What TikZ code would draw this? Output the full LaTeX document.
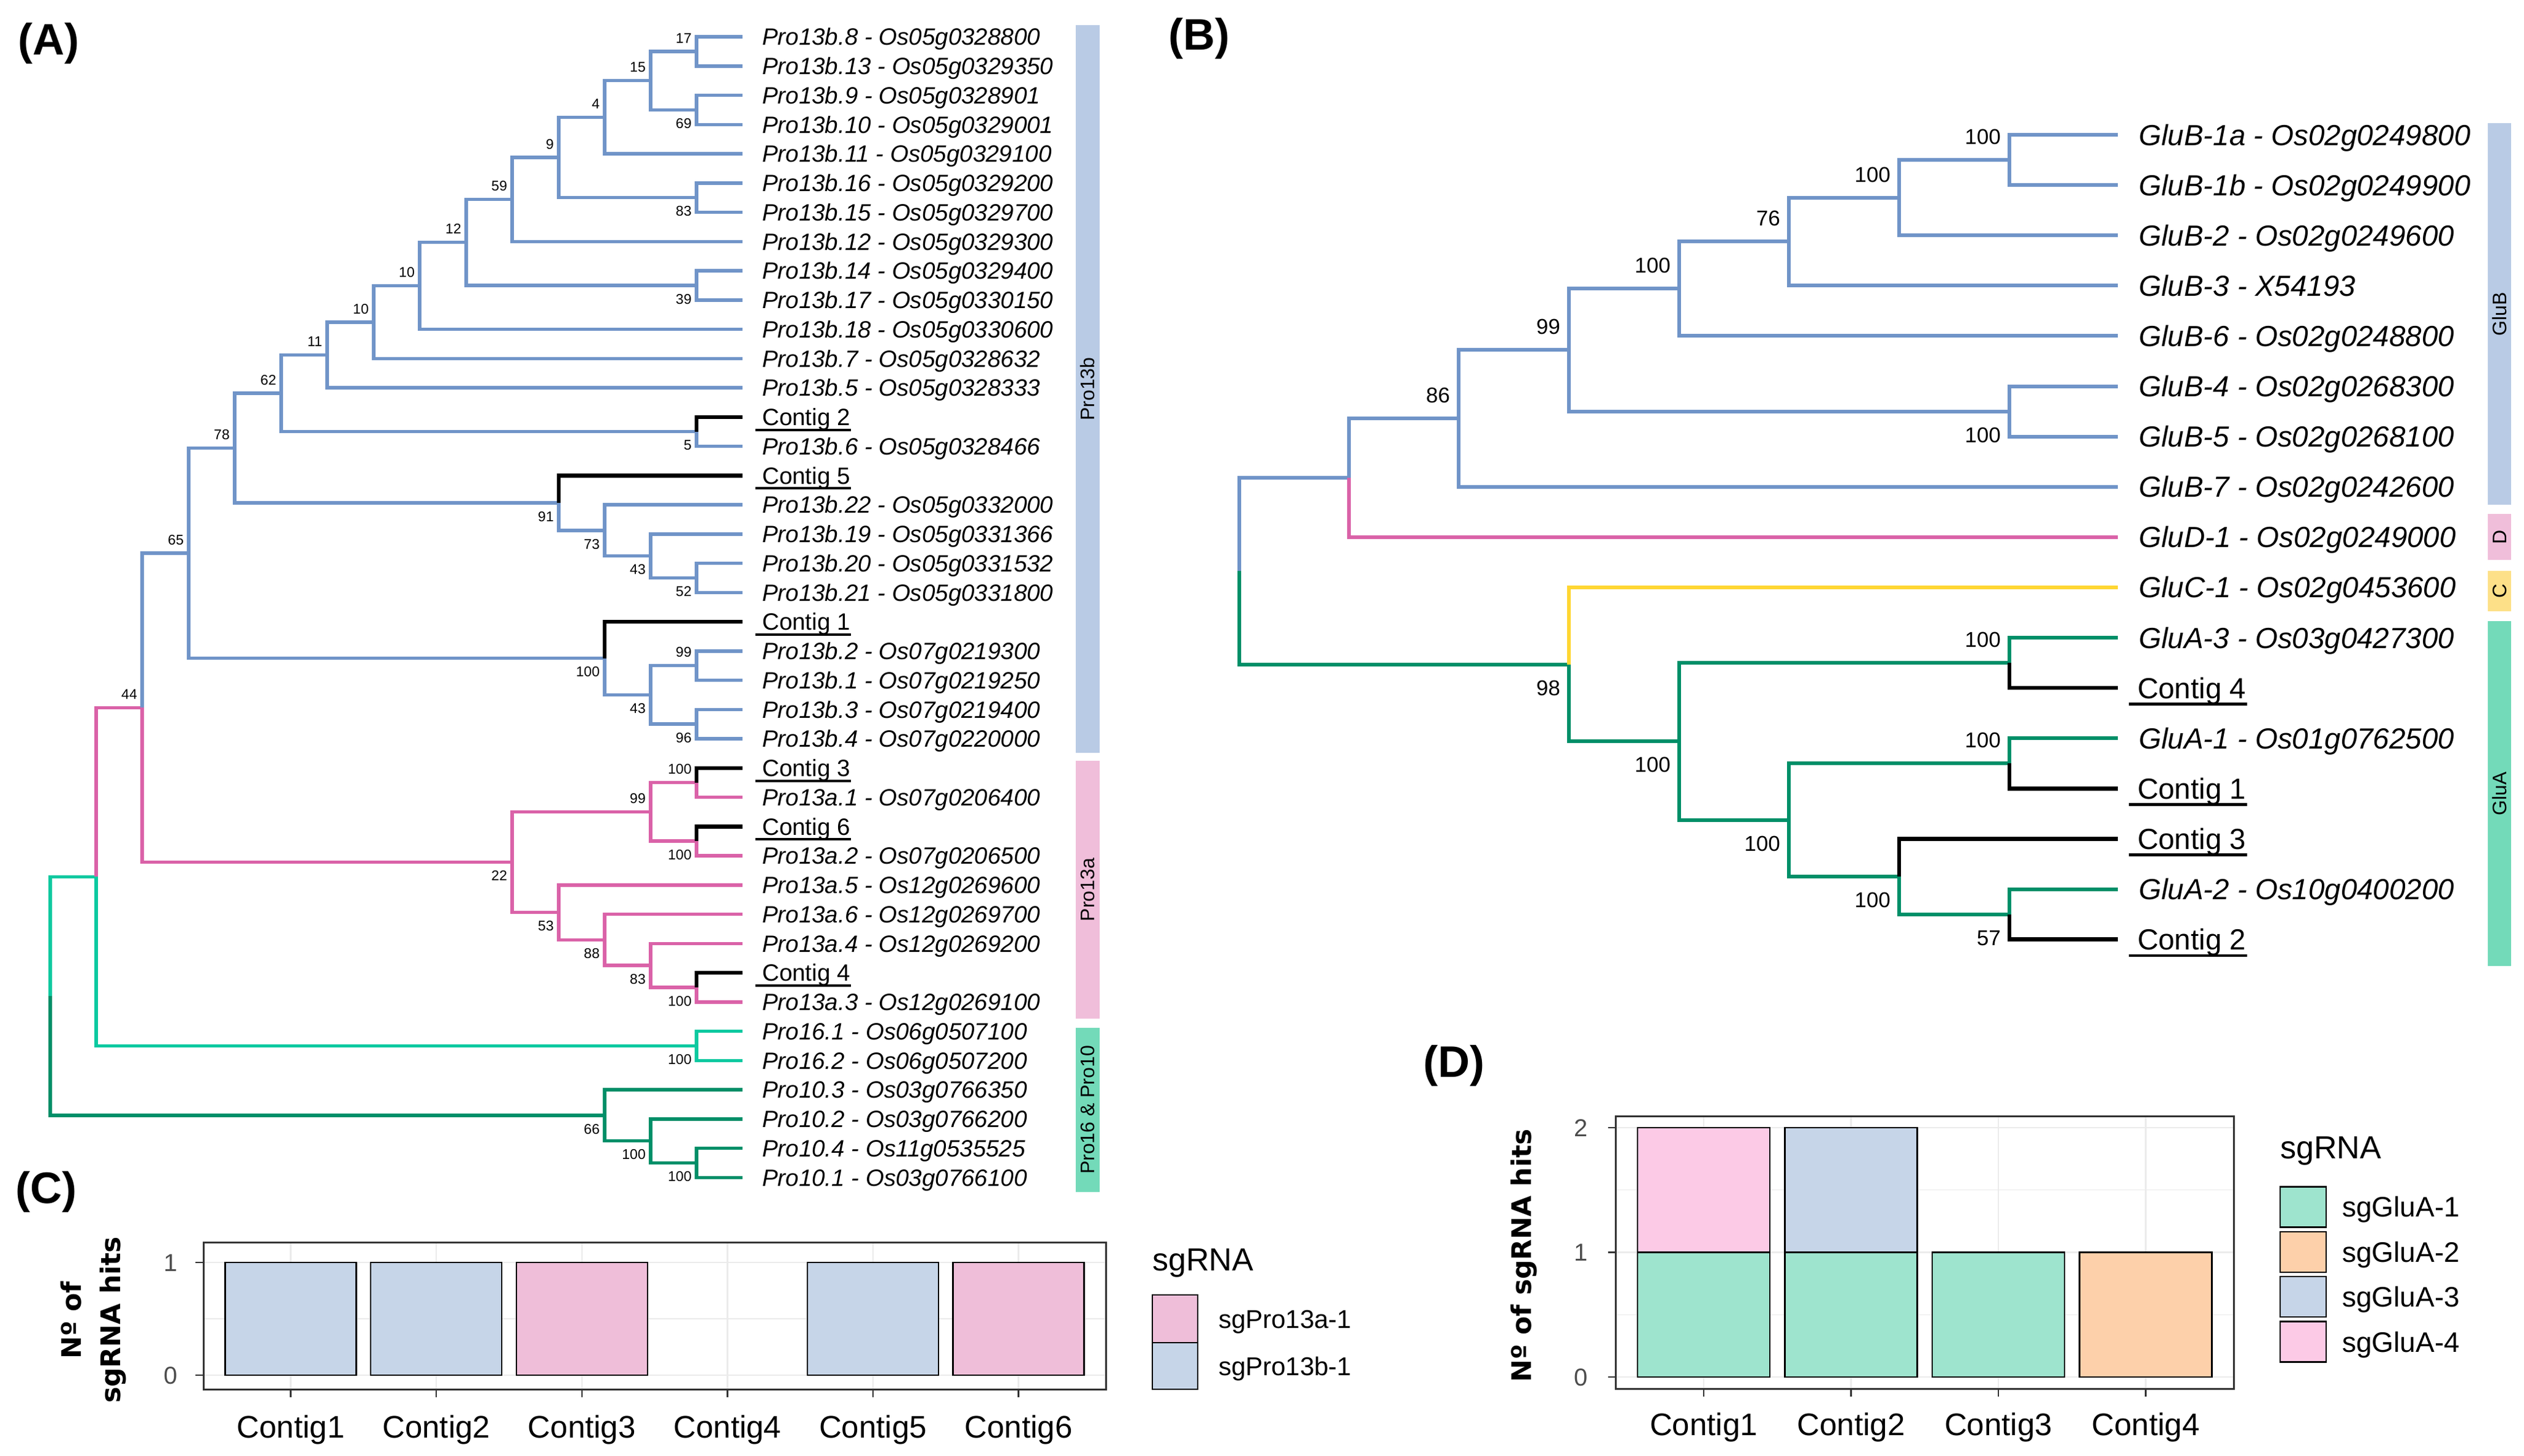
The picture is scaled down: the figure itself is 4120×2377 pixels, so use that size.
\documentclass[tikz,border=0pt]{standalone}
\usepackage{fontspec}
\setmainfont{Liberation Sans}
\newfontfamily\djv{DejaVu Sans}
\usetikzlibrary{calc}
\definecolor{tblue}{HTML}{7094C8}
\definecolor{tpink}{HTML}{DA62A8}
\definecolor{tteal}{HTML}{0CC9A0}
\definecolor{tgreen}{HTML}{008F68}
\definecolor{tyellow}{HTML}{FFD632}
\definecolor{sblue}{HTML}{B9CBE5}
\definecolor{spink}{HTML}{F0BEDA}
\definecolor{smint}{HTML}{73DAB9}
\definecolor{syellow}{HTML}{FDE088}
\definecolor{cblue}{HTML}{C6D5E8}
\definecolor{cpink}{HTML}{EFBED9}
\definecolor{dgreen}{HTML}{9EE4CE}
\definecolor{dorange}{HTML}{FDD0AA}
\definecolor{dpink}{HTML}{FCCAE6}
\definecolor{gridc}{HTML}{EBEBEB}
\definecolor{gtwenty}{HTML}{333333}
\definecolor{gthirty}{HTML}{4D4D4D}
\newcommand\supA[3]{\node[bsA] (s#1) at ($(#1)+(-8,#3)$) {#2};}
\newcommand\supB[3]{\node[bsB] (s#1) at ($(#1)+(-14,#3)$) {#2};}
\newcommand\tbr[3]{\draw[#1] (#2) |- (#3);}
\begin{document}
\begin{tikzpicture}[x=1pt,y=-1pt,
 ea/.style={line width=5.5pt, line join=miter},
 eb/.style={line width=6pt, line join=miter},
 ka/.style={line width=6.5pt, line join=miter, black},
 kb/.style={line width=6.5pt, line join=miter, black},
 leafA/.style={anchor=west, inner sep=0pt, text height=27.6pt, text depth=0pt, font=\fontsize{38.5}{40}\selectfont\itshape},
 contA/.style={anchor=west, inner sep=0pt, text height=27.6pt, text depth=0pt, font=\fontsize{38.5}{40}\selectfont},
 leafB/.style={anchor=west, inner sep=0pt, text height=34pt, text depth=0pt, font=\fontsize{47.5}{50}\selectfont\itshape},
 contB/.style={anchor=west, inner sep=0pt, text height=34pt, text depth=0pt, font=\fontsize{47.5}{50}\selectfont},
 bsA/.style={anchor=east, inner sep=0pt, text height=16.5pt, text depth=0pt, font=\fontsize{23}{24}\selectfont},
 bsB/.style={anchor=east, inner sep=0pt, text height=25pt, text depth=0pt, font=\fontsize{35}{36}\selectfont},
 strip/.style={rotate=90, inner sep=0pt, font=\fontsize{32}{34}\selectfont},
 plab/.style={anchor=base west, inner sep=0pt, font=\fontsize{72}{74}\selectfont\bfseries},
 ytick/.style={anchor=east, inner sep=0pt, text height=28.6pt, text depth=0pt, text=gthirty, font=\fontsize{40}{42}\selectfont},
 xtick/.style={anchor=base, inner sep=0pt, font=\fontsize{51}{52}\selectfont},
 ytitle/.style={rotate=90, inner sep=0pt, align=center, font=\fontsize{44}{64}\selectfont\djv\bfseries},
 legtitle/.style={anchor=base west, inner sep=0pt, font=\fontsize{52}{54}\selectfont},
 legC/.style={anchor=west, inner sep=0pt, text height=30pt, text depth=0pt, font=\fontsize{42}{44}\selectfont},
 legD/.style={anchor=west, inner sep=0pt, text height=33pt, text depth=0pt, font=\fontsize{46}{48}\selectfont},
 barout/.style={draw=black, line width=2.5pt},
 majg/.style={gridc, line width=2.4pt},
 ming/.style={gridc, line width=1.2pt},
 tickl/.style={gtwenty, line width=2.5pt}
]
\useasboundingbox (0,0) rectangle (4120,2377);
\fill[white] (0,0) rectangle (4120,2377);

% ---------------- panel letters
\node[plab] (pA) at (29,89) {(A)};
\node[plab] (pB) at (1907,81) {(B)};
\node[plab] (pC) at (25,1964) {(C)};
\node[plab] (pD) at (2323,1758) {(D)};

% ---------------- TREE A
\foreach \i in {1,...,40} {\pgfmathsetmacro\yy{60+(\i-1)*47.75}\coordinate (a\i) at (1212,\yy);}
\foreach \i/\t in {1/Pro13b.8 - Os05g0328800, 2/Pro13b.13 - Os05g0329350, 3/Pro13b.9 - Os05g0328901,
  4/Pro13b.10 - Os05g0329001, 5/Pro13b.11 - Os05g0329100, 6/Pro13b.16 - Os05g0329200,
  7/Pro13b.15 - Os05g0329700, 8/Pro13b.12 - Os05g0329300, 9/Pro13b.14 - Os05g0329400,
  10/Pro13b.17 - Os05g0330150, 11/Pro13b.18 - Os05g0330600, 12/Pro13b.7 - Os05g0328632,
  13/Pro13b.5 - Os05g0328333, 15/Pro13b.6 - Os05g0328466, 17/Pro13b.22 - Os05g0332000,
  18/Pro13b.19 - Os05g0331366, 19/Pro13b.20 - Os05g0331532, 20/Pro13b.21 - Os05g0331800,
  22/Pro13b.2 - Os07g0219300, 23/Pro13b.1 - Os07g0219250, 24/Pro13b.3 - Os07g0219400,
  25/Pro13b.4 - Os07g0220000, 27/Pro13a.1 - Os07g0206400, 29/Pro13a.2 - Os07g0206500,
  30/Pro13a.5 - Os12g0269600, 31/Pro13a.6 - Os12g0269700, 32/Pro13a.4 - Os12g0269200,
  34/Pro13a.3 - Os12g0269100, 35/Pro16.1 - Os06g0507100, 36/Pro16.2 - Os06g0507200,
  37/Pro10.3 - Os03g0766350, 38/Pro10.2 - Os03g0766200, 39/Pro10.4 - Os11g0535525,
  40/Pro10.1 - Os03g0766100}
 {\pgfmathsetmacro\yy{60+(\i-1)*47.75}\node[leafA] (ta\i) at (1244,\yy) {\t};}
\foreach \i/\t in {14/Contig 2, 16/Contig 5, 21/Contig 1, 26/Contig 3, 28/Contig 6, 33/Contig 4}
 {\pgfmathsetmacro\yy{60+(\i-1)*47.75}\node[contA] (ta\i) at (1244,\yy) {\t};
  \draw[line width=4pt] ([xshift=-11pt,yshift=-7pt]ta\i.south west) -- ([xshift=1pt,yshift=-7pt]ta\i.south east);}

\coordinate (rootA) at (82,1626.06);
\coordinate (nL1) at (157,1431.33);
\coordinate (n44) at (232,1155.28);
\coordinate (n65) at (308,903.11);
\coordinate (n78) at (383,731.53);
\coordinate (n62) at (459,642.05);
\coordinate (n11) at (534,579.47);
\coordinate (n10b) at (610,525.94);
\coordinate (n10a) at (685,466.62);
\coordinate (n12) at (761,395.74);
\coordinate (n59) at (836,325.61);
\coordinate (n9) at (912,256.97);
\coordinate (n4) at (987,191.31);
\coordinate (n15) at (1062,131.63);
\coordinate (n17) at (1137,83.88);
\coordinate (n69) at (1137,179.38);
\coordinate (n83) at (1137,322.63);
\coordinate (n39) at (1137,465.88);
\coordinate (n5) at (1137,704.63);
\coordinate (n91) at (912,821.02);
\coordinate (n73) at (987,865.78);
\coordinate (n43a) at (1062,907.56);
\coordinate (n52) at (1137,943.38);
\coordinate (n100a) at (987,1074.69);
\coordinate (n43b) at (1062,1134.38);
\coordinate (n99a) at (1137,1086.63);
\coordinate (n96) at (1137,1182.13);
\coordinate (n22) at (836,1407.45);
\coordinate (n99b) at (1062,1325.38);
\coordinate (n100b) at (1137,1277.63);
\coordinate (n100c) at (1137,1373.13);
\coordinate (n53) at (912,1489.52);
\coordinate (n88) at (987,1534.28);
\coordinate (n83b) at (1062,1576.06);
\coordinate (n100d) at (1137,1611.88);
\coordinate (n100e) at (1137,1707.38);
\coordinate (n66) at (987,1820.78);
\coordinate (n100g) at (1062,1862.56);
\coordinate (n100f) at (1137,1898.38);

\tbr{ea,tteal}{rootA}{nL1}
\tbr{ea,tgreen}{rootA}{n66}
\tbr{ea,tpink}{nL1}{n44}
\tbr{ea,tteal}{nL1}{n100e}
\tbr{ea,tblue}{n44}{n65}
\tbr{ea,tpink}{n44}{n22}
\tbr{ea,tblue}{n65}{n78}
\tbr{ea,tblue}{n65}{n100a}
\tbr{ea,tblue}{n78}{n62}
\tbr{ea,tblue}{n78}{n91}
\tbr{ea,tblue}{n62}{n11}
\tbr{ea,tblue}{n62}{n5}
\tbr{ea,tblue}{n11}{n10b}
\tbr{ea,tblue}{n11}{a13}
\tbr{ea,tblue}{n10b}{n10a}
\tbr{ea,tblue}{n10b}{a12}
\tbr{ea,tblue}{n10a}{n12}
\tbr{ea,tblue}{n10a}{a11}
\tbr{ea,tblue}{n12}{n59}
\tbr{ea,tblue}{n12}{n39}
\tbr{ea,tblue}{n59}{n9}
\tbr{ea,tblue}{n59}{a8}
\tbr{ea,tblue}{n9}{n4}
\tbr{ea,tblue}{n9}{n83}
\tbr{ea,tblue}{n4}{n15}
\tbr{ea,tblue}{n4}{a5}
\tbr{ea,tblue}{n15}{n17}
\tbr{ea,tblue}{n15}{n69}
\tbr{ea,tblue}{n17}{a1}
\tbr{ea,tblue}{n17}{a2}
\tbr{ea,tblue}{n69}{a3}
\tbr{ea,tblue}{n69}{a4}
\tbr{ea,tblue}{n83}{a6}
\tbr{ea,tblue}{n83}{a7}
\tbr{ea,tblue}{n39}{a9}
\tbr{ea,tblue}{n39}{a10}
\tbr{ea,tblue}{n5}{a15}
\tbr{ka}{n5}{a14}
\tbr{ea,tblue}{n91}{n73}
\tbr{ka}{n91}{a16}
\tbr{ea,tblue}{n73}{a17}
\tbr{ea,tblue}{n73}{n43a}
\tbr{ea,tblue}{n43a}{a18}
\tbr{ea,tblue}{n43a}{n52}
\tbr{ea,tblue}{n52}{a19}
\tbr{ea,tblue}{n52}{a20}
\tbr{ea,tblue}{n100a}{n43b}
\tbr{ka}{n100a}{a21}
\tbr{ea,tblue}{n43b}{n99a}
\tbr{ea,tblue}{n43b}{n96}
\tbr{ea,tblue}{n99a}{a22}
\tbr{ea,tblue}{n99a}{a23}
\tbr{ea,tblue}{n96}{a24}
\tbr{ea,tblue}{n96}{a25}
\tbr{ea,tpink}{n22}{n99b}
\tbr{ea,tpink}{n22}{n53}
\tbr{ea,tpink}{n99b}{n100b}
\tbr{ea,tpink}{n99b}{n100c}
\tbr{ea,tpink}{n100b}{a27}
\tbr{ka}{n100b}{a26}
\tbr{ea,tpink}{n100c}{a29}
\tbr{ka}{n100c}{a28}
\tbr{ea,tpink}{n53}{a30}
\tbr{ea,tpink}{n53}{n88}
\tbr{ea,tpink}{n88}{a31}
\tbr{ea,tpink}{n88}{n83b}
\tbr{ea,tpink}{n83b}{a32}
\tbr{ea,tpink}{n83b}{n100d}
\tbr{ea,tpink}{n100d}{a34}
\tbr{ka}{n100d}{a33}
\tbr{ea,tteal}{n100e}{a35}
\tbr{ea,tteal}{n100e}{a36}
\tbr{ea,tgreen}{n66}{a37}
\tbr{ea,tgreen}{n66}{n100g}
\tbr{ea,tgreen}{n100g}{a38}
\tbr{ea,tgreen}{n100g}{n100f}
\tbr{ea,tgreen}{n100f}{a39}
\tbr{ea,tgreen}{n100f}{a40}

\supA{n17}{17}{-22}
\supA{n69}{69}{22}
\supA{n15}{15}{-22}
\supA{n4}{4}{-22}
\supA{n83}{83}{22}
\supA{n9}{9}{-22}
\supA{n59}{59}{-22}
\supA{n39}{39}{22}
\supA{n12}{12}{-22}
\supA{n10a}{10}{-22}
\supA{n10b}{10}{-22}
\supA{n11}{11}{-22}
\supA{n5}{5}{22}
\supA{n62}{62}{-22}
\supA{n52}{52}{22}
\supA{n43a}{43}{22}
\supA{n73}{73}{22}
\supA{n91}{91}{22}
\supA{n78}{78}{-22}
\supA{n99a}{99}{-22}
\supA{n96}{96}{22}
\supA{n43b}{43}{22}
\supA{n100a}{100}{22}
\supA{n65}{65}{-22}
\supA{n100b}{100}{-22}
\supA{n100c}{100}{22}
\supA{n99b}{99}{-22}
\supA{n100d}{100}{22}
\supA{n83b}{83}{22}
\supA{n88}{88}{22}
\supA{n53}{53}{22}
\supA{n22}{22}{22}
\supA{n44}{44}{-22}
\supA{n100e}{100}{22}
\supA{n100f}{100}{22}
\supA{n100g}{100}{22}
\supA{n66}{66}{22}

% strips A
\fill[sblue] (1756,41) rectangle (1795,1229);
\fill[spink] (1756,1242) rectangle (1795,1663);
\fill[smint] (1756,1678) rectangle (1795,1946);
\node[strip] (stA1) at (1775.5,635) {Pro13b};
\node[strip] (stA2) at (1775.5,1452.5) {Pro13a};
\node[strip] (stA3) at (1775.5,1812) {Pro16 \& Pro10};

% ---------------- TREE B
\foreach \j in {1,...,17} {\pgfmathsetmacro\yy{220+(\j-1)*82.1}\coordinate (m\j) at (3457,\yy);}
\foreach \j/\t in {1/GluB-1a - Os02g0249800, 2/GluB-1b - Os02g0249900, 3/GluB-2 - Os02g0249600,
  4/GluB-3 - X54193, 5/GluB-6 - Os02g0248800, 6/GluB-4 - Os02g0268300, 7/GluB-5 - Os02g0268100,
  8/GluB-7 - Os02g0242600, 9/GluD-1 - Os02g0249000, 10/GluC-1 - Os02g0453600,
  11/GluA-3 - Os03g0427300, 13/GluA-1 - Os01g0762500, 16/GluA-2 - Os10g0400200}
 {\pgfmathsetmacro\yy{220+(\j-1)*82.1}\node[leafB] (tb\j) at (3491,\yy) {\t};}
\foreach \j/\t in {12/Contig 4, 14/Contig 1, 15/Contig 3, 17/Contig 2}
 {\pgfmathsetmacro\yy{220+(\j-1)*82.1}\node[contB] (tb\j) at (3489,\yy) {\t};
  \draw[line width=4.5pt] ([xshift=-14pt,yshift=-9pt]tb\j.south west) -- ([xshift=2pt,yshift=-9pt]tb\j.south east);}

\coordinate (rootB) at (2023,932.3);
\coordinate (bx) at (2202,779.95);
\coordinate (b86) at (2381,683.1);
\coordinate (b99) at (2561,571.49);
\coordinate (b100d) at (2741,471.43);
\coordinate (b76) at (2920,394.46);
\coordinate (b100b) at (3100,322.63);
\coordinate (b100a) at (3280,261.05);
\coordinate (b100c) at (3280,671.55);
\coordinate (b98) at (2561,1084.6);
\coordinate (b100i) at (2741,1210.3);
\coordinate (b100h) at (2920,1338.6);
\coordinate (b100g) at (3100,1430.98);
\coordinate (b100e) at (3280,1082.05);
\coordinate (b100f) at (3280,1246.25);
\coordinate (b57) at (3280,1492.55);

\tbr{eb,tblue}{rootB}{bx}
\tbr{eb,tgreen}{rootB}{b98}
\tbr{eb,tblue}{bx}{b86}
\tbr{eb,tpink}{bx}{m9}
\tbr{eb,tblue}{b86}{b99}
\tbr{eb,tblue}{b86}{m8}
\tbr{eb,tblue}{b99}{b100d}
\tbr{eb,tblue}{b99}{b100c}
\tbr{eb,tblue}{b100d}{b76}
\tbr{eb,tblue}{b100d}{m5}
\tbr{eb,tblue}{b76}{b100b}
\tbr{eb,tblue}{b76}{m4}
\tbr{eb,tblue}{b100b}{b100a}
\tbr{eb,tblue}{b100b}{m3}
\tbr{eb,tblue}{b100a}{m1}
\tbr{eb,tblue}{b100a}{m2}
\tbr{eb,tblue}{b100c}{m6}
\tbr{eb,tblue}{b100c}{m7}
\tbr{eb,tyellow}{b98}{m10}
\tbr{eb,tgreen}{b98}{b100i}
\tbr{eb,tgreen}{b100i}{b100e}
\tbr{eb,tgreen}{b100i}{b100h}
\tbr{eb,tgreen}{b100e}{m11}
\tbr{kb}{b100e}{m12}
\tbr{eb,tgreen}{b100h}{b100f}
\tbr{eb,tgreen}{b100h}{b100g}
\tbr{eb,tgreen}{b100f}{m13}
\tbr{kb}{b100f}{m14}
\tbr{eb,tgreen}{b100g}{b57}
\tbr{kb}{b100g}{m15}
\tbr{eb,tgreen}{b57}{m16}
\tbr{kb}{b57}{m17}

\supB{b100a}{100}{-38}
\supB{b100b}{100}{-38}
\supB{b76}{76}{-38}
\supB{b100d}{100}{-38}
\supB{b100c}{100}{38}
\supB{b99}{99}{-38}
\supB{b86}{86}{-38}
\supB{b100e}{100}{-38}
\supB{b100f}{100}{-38}
\supB{b57}{57}{38}
\supB{b100g}{100}{38}
\supB{b100h}{100}{38}
\supB{b100i}{100}{38}
\supB{b98}{98}{38}

% strips B
\fill[sblue] (4061,201) rectangle (4099,824);
\fill[spink] (4061,839) rectangle (4099,914);
\fill[syellow] (4061,932) rectangle (4099,998);
\fill[smint] (4061,1014) rectangle (4099,1577);
\node[strip] (stB1) at (4080,512.5) {GluB};
\node[strip] (stB2) at (4080,876.5) {D};
\node[strip] (stB3) at (4080,965) {C};
\node[strip] (stB4) at (4080,1295.5) {GluA};

% ---------------- CHART C
\draw[ming] (332,2153) -- (1805,2153);
\draw[majg] (332,2245) -- (1805,2245) (332,2061) -- (1805,2061);
\foreach \cx in {474.6,712.2,949.8,1187.4,1425,1662.6} {\draw[majg] (\cx,2028) -- (\cx,2268);}
\foreach \cx/\col in {474.6/cblue,712.2/cblue,949.8/cpink,1425/cblue,1662.6/cpink}
 {\filldraw[fill=\col, barout] (\cx-107,2245) rectangle (\cx+107,2061);}
\draw[gtwenty, line width=3pt] (332,2028) rectangle (1805,2268);
\foreach \cx in {474.6,712.2,949.8,1187.4,1425,1662.6} {\draw[tickl] (\cx,2268) -- (\cx,2281);}
\draw[tickl] (319,2245) -- (332,2245) (319,2061) -- (332,2061);
\node[ytick] (cy0) at (290,2245) {0};
\node[ytick] (cy1) at (290,2061) {1};
\foreach \k/\cx in {1/474.6,2/712.2,3/949.8,4/1187.4,5/1425,6/1662.6}
 {\node[xtick] (cx\k) at (\cx,2347) {Contig\k};}
\node[ytitle] (cyt) at (153,2155) {Nº of\\sgRNA hits};
\node[legtitle] (clt) at (1881,2074) {sgRNA};
\filldraw[fill=cpink, barout] (1881,2114) rectangle (1955,2192);
\filldraw[fill=cblue, barout] (1881,2192) rectangle (1955,2268);
\node[legC] (cl1) at (1989,2153) {sgPro13a-1};
\node[legC] (cl2) at (1989,2230) {sgPro13b-1};

% ---------------- CHART D
\draw[ming] (2637,2146.25) -- (3646,2146.25) (2637,1942.75) -- (3646,1942.75);
\draw[majg] (2637,2248) -- (3646,2248) (2637,2044.5) -- (3646,2044.5) (2637,1841) -- (3646,1841);
\foreach \cx in {2781,3021.5,3262,3502.5} {\draw[majg] (\cx,1822) -- (\cx,2267);}
\filldraw[fill=dgreen, barout] (2781-108,2248) rectangle (2781+108,2044.5);
\filldraw[fill=dpink, barout] (2781-108,2044.5) rectangle (2781+108,1841);
\filldraw[fill=dgreen, barout] (3021.5-108,2248) rectangle (3021.5+108,2044.5);
\filldraw[fill=cblue, barout] (3021.5-108,2044.5) rectangle (3021.5+108,1841);
\filldraw[fill=dgreen, barout] (3262-108,2248) rectangle (3262+108,2044.5);
\filldraw[fill=dorange, barout] (3502.5-108,2248) rectangle (3502.5+108,2044.5);
\draw[gtwenty, line width=3pt] (2637,1822) rectangle (3646,2267);
\foreach \cx in {2781,3021.5,3262,3502.5} {\draw[tickl] (\cx,2267) -- (\cx,2280);}
\draw[tickl] (2625,2248) -- (2637,2248) (2625,2044.5) -- (2637,2044.5) (2625,1841) -- (2637,1841);
\node[ytick] (dy0) at (2592,2248) {0};
\node[ytick] (dy1) at (2592,2044.5) {1};
\node[ytick] (dy2) at (2592,1841) {2};
\foreach \k/\cx in {1/2781,2/3021.5,3/3262,4/3502.5}
 {\node[xtick] (dx\k) at (\cx,2343) {Contig\k};}
\node[ytitle] (dyt) at (2488,2050) {Nº of sgRNA hits};
\node[legtitle] (dlt) at (3722,1891) {sgRNA};
\foreach \k/\top/\col in {1/1937.4/dgreen, 2/2010.8/dorange, 3/2084.2/cblue, 4/2157.6/dpink}
 {\filldraw[fill=\col, barout] (3722,\top) rectangle (3797,\top+66);
  \node[legD] (dl\k) at (3823,\top+33) {sgGluA-\k};}
\end{tikzpicture}
\end{document}
